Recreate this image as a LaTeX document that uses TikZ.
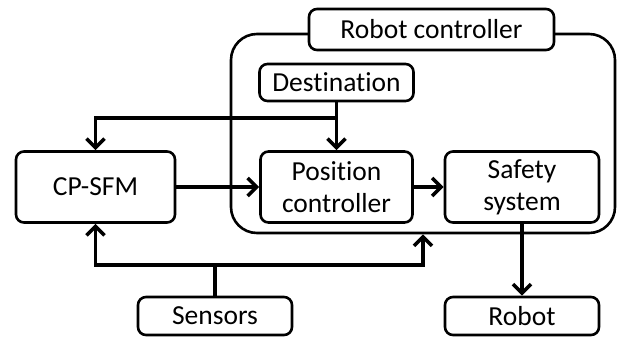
\documentclass[tikz,border=0pt]{standalone}
\usepackage{fontspec}
\setmainfont{Carlito}[Ligatures=NoCommon]
\usetikzlibrary{arrows.meta}
\begin{document}
\begin{tikzpicture}[x=1pt,y=-1pt,
  box/.style={draw, line width=2.6pt, rounded corners=8pt, inner sep=0pt, align=center,
    font=\fontsize{27.5}{32}\selectfont},
  cont/.style={draw, line width=2.6pt, rounded corners=26pt, inner sep=0pt},
  link/.style={line width=3.6pt},
  arr/.style={link, -{Straight Barb[length=9pt,width=18pt]}}]
\useasboundingbox (0,0) rectangle (620,338);
\node[cont, minimum width=384pt, minimum height=199pt] (container) at (423,133.5) {};
\node[box, fill=white, minimum width=245pt, minimum height=41pt] (rc) at (431.5,29.5) {Robot controller};
\node[box, minimum width=159pt, minimum height=71pt] (cpsfm) at (95.5,187) {CP-SFM};
\node[box, minimum width=154pt, minimum height=37pt] (dest) at (336.5,82.5) {Destination};
\node[box, minimum width=152pt, minimum height=71pt] (pos) at (336.5,187) {Position\\controller};
\node[box, minimum width=154pt, minimum height=71pt] (safety) at (522,187) {Safety\\system};
\node[box, minimum width=154pt, minimum height=38pt] (sensors) at (215,316) {Sensors};
\node[box, minimum width=154pt, minimum height=38pt] (robot) at (522,316) {Robot};
\coordinate (br) at (336.5,118);
\coordinate (sj) at (215,265);
\draw[arr] (dest.south) -- (pos.north);
\draw[arr] (br) -| (cpsfm.north);
\draw[arr] (cpsfm.east) -- (pos.west);
\draw[arr] (pos.east) -- (safety.west);
\draw[arr] (safety.south) -- (robot.north);
\draw[link] (sensors.north) -- (sj);
\draw[arr] (sj) -| (cpsfm.south);
\draw[arr] (sj) -| (container.south);
\end{tikzpicture}
\end{document}
